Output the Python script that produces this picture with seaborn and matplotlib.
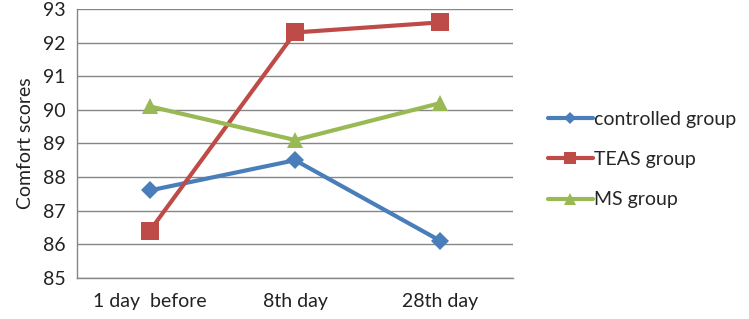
import numpy as np
import pandas as pd
import seaborn as sns
import matplotlib.pyplot as plt

# values
days = ['1 day  before', '8th day', '28th day']
controlled = [87.6, 88.5, 86.1]
teas = [86.4, 92.3, 92.6]
ms = [90.1, 89.1, 90.2]
groups = ['controlled group', 'TEAS group', 'MS group']

pos = np.arange(len(days)) + 0.5
df = pd.DataFrame({
    'x': np.tile(pos, 3),
    'score': controlled + teas + ms,
    'group': np.repeat(groups, len(days)),
})

sns.set_style('white')
plt.rcParams['font.family'] = ['Lato', 'DejaVu Sans']

colors = {'controlled group': '#4A7EBB', 'TEAS group': '#BE4B48', 'MS group': '#98B954'}
markers = {'controlled group': 'D', 'TEAS group': 's', 'MS group': '^'}
msize = {'controlled group': 9, 'TEAS group': 13, 'MS group': 12}
fs = 14

fig = plt.figure(figsize=(7.49, 3.19), dpi=100)
ax = fig.add_axes([0.103, 0.129, 0.582, 0.843])

for g in groups:
    sns.lineplot(data=df[df.group == g], x='x', y='score', color=colors[g],
                 marker=markers[g], markersize=msize[g], markeredgewidth=0,
                 linewidth=3, label=g, ax=ax)

ax.set_xlim(0, 3)
ax.set_ylim(85, 93)
ax.set_yticks(range(85, 94))
ax.set_xticks(pos)
ax.set_xticklabels(days)
ax.set_xticks([0, 1, 2, 3], minor=True)
ax.tick_params(axis='x', which='major', length=0, pad=11, labelsize=fs, colors='#222222')
ax.tick_params(axis='x', which='minor', length=5, color='#868686', width=1)
ax.tick_params(axis='y', length=5, color='#868686', width=1, labelsize=fs, colors='#222222')
ax.grid(axis='y', color='#868686', linewidth=1)
ax.set_axisbelow(True)
for s in ['top', 'right']:
    ax.spines[s].set_visible(False)
for s in ['left', 'bottom']:
    ax.spines[s].set_color('#868686')
    ax.spines[s].set_linewidth(1)
ax.set_xlabel('')
ax.set_ylabel('Comfort scores', fontsize=fs, color='#222222', labelpad=6)

h, l = ax.get_legend_handles_labels()
ax.get_legend().remove()
fig.legend(h, l, loc='center left', bbox_to_anchor=(0.708, 0.50), frameon=False,
           fontsize=fs, labelspacing=1.2, handlelength=2.3, handletextpad=0.1,
           markerscale=0.7)

fig.savefig('out.png', dpi=100)
